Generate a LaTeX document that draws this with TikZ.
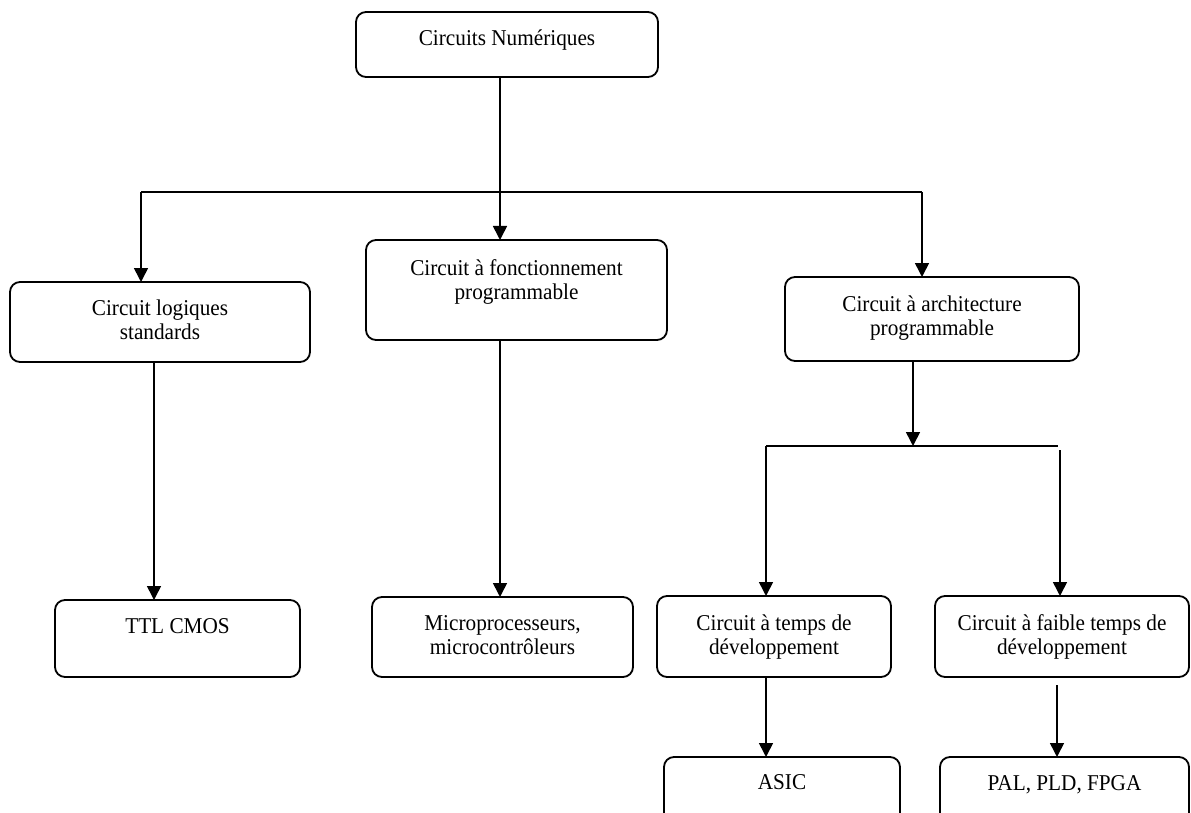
\documentclass[tikz,border=0pt]{standalone}
\usepackage{fontspec}
\setmainfont{Liberation Serif}[FakeStretch=0.94]
\usetikzlibrary{arrows.meta}
\begin{document}
\begin{tikzpicture}[x=1pt,y=-1pt,
  box/.style={draw, line width=1.8pt, rounded corners=10pt, inner sep=0pt, outer sep=0pt},
  txt/.style={anchor=north, inner sep=0pt, align=center, font=\fontsize{22.6}{24}\selectfont},
  conn/.style={line width=1.6pt},
  arr/.style={conn, -{Triangle[length=14pt,width=14pt]}}]
\useasboundingbox (0,0) rectangle (1191,813);
% boxes
\node[box, minimum width=302pt, minimum height=65pt] (top) at (507,44.5) {};
\node[box, minimum width=300pt, minimum height=80pt] (b1) at (160,322) {};
\node[box, minimum width=301pt, minimum height=100pt] (b2) at (516.5,290) {};
\node[box, minimum width=294pt, minimum height=84pt] (b3) at (932,319) {};
\node[box, minimum width=245pt, minimum height=77pt] (ttl) at (177.5,638.5) {};
\node[box, minimum width=261pt, minimum height=80pt] (micro) at (502.5,637) {};
\node[box, minimum width=234pt, minimum height=81pt] (temps) at (774,636.5) {};
\node[box, minimum width=254pt, minimum height=81pt] (faible) at (1062,636.5) {};
\node[box, minimum width=236pt, minimum height=74pt] (asic) at (782,794) {};
\node[box, minimum width=249pt, minimum height=74pt] (pal) at (1064.5,794) {};
% texts
\node[txt] (ttop) at ([yshift=-16.7pt]top.north) {\strut Circuits Numériques};
\node[txt] (tb1) at ([yshift=-16.7pt]b1.north) {\strut Circuit logiques\\standards};
\node[txt] (tb2) at ([yshift=-18.7pt]b2.north) {\strut Circuit à fonctionnement\\programmable};
\node[txt] (tb3) at ([yshift=-17.7pt]b3.north) {\strut Circuit à architecture\\programmable};
\node[txt] (tttl) at ([yshift=-16.7pt]ttl.north) {\strut TTL CMOS};
\node[txt] (tmicro) at ([yshift=-16.7pt]micro.north) {\strut Microprocesseurs,\\microcontrôleurs};
\node[txt] (ttemps) at ([yshift=-17.7pt]temps.north) {\strut Circuit à temps de\\développement};
\node[txt] (tfaible) at ([yshift=-17.7pt]faible.north) {\strut Circuit à faible temps de\\développement};
\node[txt] (tasic) at ([yshift=-15.7pt]asic.north) {\strut ASIC};
\node[txt] (tpal) at ([yshift=-16.2pt]pal.north) {\strut PAL, PLD, FPGA};
% connectors
\coordinate (j0) at (500,192);
\coordinate (jL) at (141,192);
\coordinate (jR) at (922,192);
\coordinate (c1) at (154,0);
\coordinate (k0) at (913,446);
\coordinate (kL) at (766,446);
\coordinate (kR) at (1058,446);
\coordinate (kR2) at (1060,450);
\coordinate (kP) at (1057,685);
\draw[arr] (top.south -| j0) -- (b2.north -| j0);
\draw[conn] (jL) -- (jR);
\draw[arr] (jL) -- (b1.north -| jL);
\draw[arr] (jR) -- (b3.north -| jR);
\draw[arr] (b1.south -| c1) -- (ttl.north -| c1);
\draw[arr] (b2.south -| j0) -- (micro.north -| j0);
\draw[arr] (b3.south -| k0) -- (k0);
\draw[conn] (kL) -- (kR);
\draw[arr] (kL) -- (temps.north -| kL);
\draw[arr] (kR2) -- (faible.north -| kR2);
\draw[arr] (temps.south -| kL) -- (asic.north -| kL);
\draw[arr] (kP) -- (pal.north -| kP);
\end{tikzpicture}
\end{document}
